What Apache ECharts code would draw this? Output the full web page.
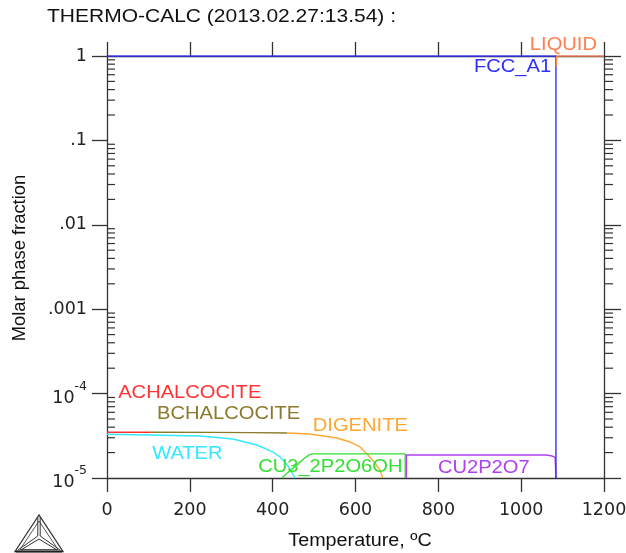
<!DOCTYPE html>
<html><head><meta charset="utf-8">
<script src="https://cdn.jsdelivr.net/npm/echarts@6/dist/echarts.min.js"></script>
<style>html,body{margin:0;padding:0;background:#fff}#c{width:626px;height:553px}</style>
</head><body><div id="c"></div>
<script>
// ---------- data ----------
const titleText = 'THERMO-CALC (2013.02.27:13.54) :';
const xAxisName = 'Temperature, ºC';
const yAxisName = 'Molar phase fraction';
const xMin = 0, xMax = 1200, xStep = 200;
const yMin = 1e-5, yMax = 1;
const yTickLabels = ['10^-5', '10^-4', '.001', '.01', '.1', '1'];
const minorMultipliers = [2, 3, 4, 5, 6, 7, 8, 9];
const minorDecades = [1e-5, 1e-4, 1e-3, 1e-2, 1e-1];

const fccA1 = [[0, 1], [1084, 1], [1084, 1e-5]];
const liquid = [[1085, 0.75], [1085.5, 1], [1200, 1]];
const achalcocite = [[0, 3.48e-5], [108, 3.48e-5]];
const bchalcocite = [[108, 3.48e-5], [250, 3.47e-5], [350, 3.45e-5], [435, 3.41e-5]];
const digenite = [[435, 3.41e-5], [490, 3.32e-5], [555, 2.98e-5], [587, 2.67e-5], [611, 2.33e-5], [630, 1.87e-5], [647, 1.51e-5], [659, 1.24e-5], [666, 1e-5]];
const water = [[0, 3.30e-5], [104, 3.23e-5], [225, 3.15e-5], [304, 2.90e-5], [362, 2.46e-5], [401, 2.03e-5], [418, 1.77e-5], [437, 1.39e-5], [454, 1e-5]];
const cu3p2o6oh = [[422, 1e-5], [440, 1.2e-5], [458, 1.42e-5], [476, 1.7e-5], [488, 1.88e-5], [496, 1.93e-5], [720, 1.93e-5], [720, 1e-5]];
const cu2p2o7 = [[723, 1e-5], [723, 1.87e-5], [1060, 1.87e-5], [1075, 1.82e-5], [1082, 1.75e-5], [1084, 1e-5]];

const phaseNames = ['LIQUID', 'FCC_A1', 'ACHALCOCITE', 'BCHALCOCITE', 'DIGENITE', 'WATER', 'CU3_2P2O6OH', 'CU2P2O7'];
const labelT = [1021, 886, 27, 121, 497, 109, 365, 799];
const labelV = [1.33, 0.741, 1.0e-4, 5.73e-5, 4.08e-5, 1.90e-5, 1.33e-5, 1.30e-5];

// ---------- styles ----------
const C = {
  LIQUID: '#ff7f50', FCC_A1: '#2f2fff', ACHALCOCITE: '#ff3333', BCHALCOCITE: '#8a7a2a',
  DIGENITE: '#ffa830', WATER: '#33e8ff', CU3_2P2O6OH: '#33e033', CU2P2O7: '#b040f0'
};
const AX = '#333';
const LBL_FONT = '"Liberation Sans", Arial, sans-serif';
const TICK_FONT = '"DejaVu Sans", sans-serif';

const minorVals = [];
minorDecades.forEach(d => minorMultipliers.forEach(m => minorVals.push(m * d)));

function yFmt(v) {
  const idx = Math.round(Math.log10(v)) + 5;
  const s = yTickLabels[idx];
  if (s === undefined) return '';
  if (s.indexOf('^') >= 0) {
    const p = s.split('^');
    return '{b|' + p[0] + '}{s|' + p[1] + '}';
  }
  return '{n|' + s + '}';
}

function lineSeries(name, data) {
  return {
    name, type: 'line', data, showSymbol: false, symbol: 'none', silent: true,
    lineStyle: { color: C[name], width: 1.4 }, itemStyle: { color: C[name] }, animation: false, z: 3
  };
}

const chart = echarts.init(document.getElementById('c'), null, { renderer: 'canvas' });
chart.setOption({
  animation: false,
  backgroundColor: '#fff',
  grid: { left: 107, right: 22, top: 56, bottom: 75, containLabel: false, outerBoundsMode: 'none' },
  xAxis: [
    {
      type: 'value', min: xMin, max: xMax, interval: xStep, position: 'bottom',
      axisLine: { show: true, onZero: false, lineStyle: { color: AX, width: 1.3 } },
      axisTick: { show: true, inside: false, length: 14, lineStyle: { color: AX, width: 1.3 } },
      axisLabel: { show: true, margin: 23, color: '#222', fontFamily: TICK_FONT, fontSize: 17.5, formatter: v => String(v) },
      splitLine: { show: false }
    },
    {
      type: 'value', min: xMin, max: xMax, interval: xStep, position: 'top',
      axisLine: { show: true, onZero: false, lineStyle: { color: AX, width: 1.3 } },
      axisTick: { show: true, inside: false, length: 14, lineStyle: { color: AX, width: 1.3 } },
      axisLabel: { show: false }, splitLine: { show: false }
    }
  ],
  yAxis: [
    {
      type: 'log', logBase: 10, min: yMin, max: yMax, position: 'left',
      axisLine: { show: true, onZero: false, lineStyle: { color: AX, width: 1.3 } },
      axisTick: { show: true, inside: false, length: 15, lineStyle: { color: AX, width: 1.3 } },
      axisLabel: {
        show: true, margin: 20, formatter: yFmt, color: '#222',
        rich: {
          n: { fontFamily: TICK_FONT, fontSize: 17.5, color: '#222' },
          b: { fontFamily: TICK_FONT, fontSize: 17.5, color: '#222', lineHeight: 17, padding: [9, 0, 0, 0] },
          s: { fontFamily: TICK_FONT, fontSize: 12.5, color: '#222', lineHeight: 12, padding: [0, 0, 14, 0] }
        }
      },
      splitLine: { show: false }, minorTick: { show: false }
    },
    {
      type: 'log', logBase: 10, min: yMin, max: yMax, position: 'right',
      axisLine: { show: true, onZero: false, lineStyle: { color: AX, width: 1.3 } },
      axisTick: { show: true, inside: false, length: 17, lineStyle: { color: AX, width: 1.3 } },
      axisLabel: { show: false }, splitLine: { show: false }
    }
  ],
  series: [
    lineSeries('WATER', water),
    lineSeries('ACHALCOCITE', achalcocite),
    lineSeries('BCHALCOCITE', bchalcocite),
    lineSeries('DIGENITE', digenite),
    lineSeries('CU3_2P2O6OH', cu3p2o6oh),
    lineSeries('CU2P2O7', cu2p2o7),
    lineSeries('FCC_A1', fccA1),
    lineSeries('LIQUID', liquid),
    {
      type: 'custom', name: 'minorTicks', silent: true, clip: false, z: 4,
      data: minorVals.map(v => [xMin, v]),
      encode: { x: 0, y: 1 },
      renderItem: function (params, api) {
        const v = api.value(1);
        const l = api.coord([xMin, v]);
        const r = api.coord([xMax, v]);
        return {
          type: 'group', children: [
            { type: 'line', shape: { x1: l[0], y1: l[1], x2: l[0] + 8, y2: l[1] }, style: { stroke: AX, lineWidth: 1.2 } },
            { type: 'line', shape: { x1: r[0], y1: r[1], x2: r[0] + 9, y2: r[1] }, style: { stroke: AX, lineWidth: 1.2 } }
          ]
        };
      }
    },
    {
      type: 'custom', name: 'phaseLabels', silent: true, clip: false, z: 5,
      data: labelT.map((t, i) => [t, labelV[i]]),
      encode: { x: 0, y: 1 },
      renderItem: function (params, api) {
        const p = api.coord([api.value(0), api.value(1)]);
        const name = phaseNames[params.dataIndex];
        return {
          type: 'text', x: p[0], y: p[1], scaleX: 1.15,
          style: { text: name, fill: C[name], font: '17.5px ' + LBL_FONT, align: 'left', verticalAlign: 'middle' }
        };
      }
    }
  ],
  graphic: [
    { type: 'text', x: 47, y: 17.5, scaleX: 1.2, style: { text: titleText, fill: '#111', font: '17.5px ' + LBL_FONT, align: 'left', verticalAlign: 'middle' } },
    { type: 'text', x: 360, y: 541.5, scaleX: 1.13, style: { text: xAxisName, fill: '#111', font: '17.5px ' + LBL_FONT, align: 'center', verticalAlign: 'middle' } },
    { type: 'text', x: 20.5, y: 258, rotation: Math.PI / 2, scaleX: 1.05, style: { text: yAxisName, fill: '#111', font: '17.5px ' + LBL_FONT, align: 'center', verticalAlign: 'middle' } },
    {
      type: 'group', x: 0, y: 0, children: [
        { type: 'polygon', shape: { points: [[39, 515], [15, 551.5], [63, 551.5]] }, style: { fill: 'none', stroke: '#333', lineWidth: 1.3 } },
        { type: 'polygon', shape: { points: [[39, 521], [20, 549.5], [58, 549.5]] }, style: { fill: 'none', stroke: '#555', lineWidth: 1 } },
        { type: 'polyline', shape: { points: [[37.8, 517], [37.8, 536], [18, 550]] }, style: { fill: 'none', stroke: '#333', lineWidth: 1 } },
        { type: 'polyline', shape: { points: [[40.2, 517], [40.2, 536], [60, 550]] }, style: { fill: 'none', stroke: '#333', lineWidth: 1 } },
        { type: 'polyline', shape: { points: [[21, 550], [39, 539], [57, 550]] }, style: { fill: 'none', stroke: '#333', lineWidth: 1 } },
        { type: 'line', shape: { x1: 16, y1: 551.5, x2: 62, y2: 551.5 }, style: { stroke: '#222', lineWidth: 2 } }
      ]
    }
  ]
});
</script>
</body></html>
